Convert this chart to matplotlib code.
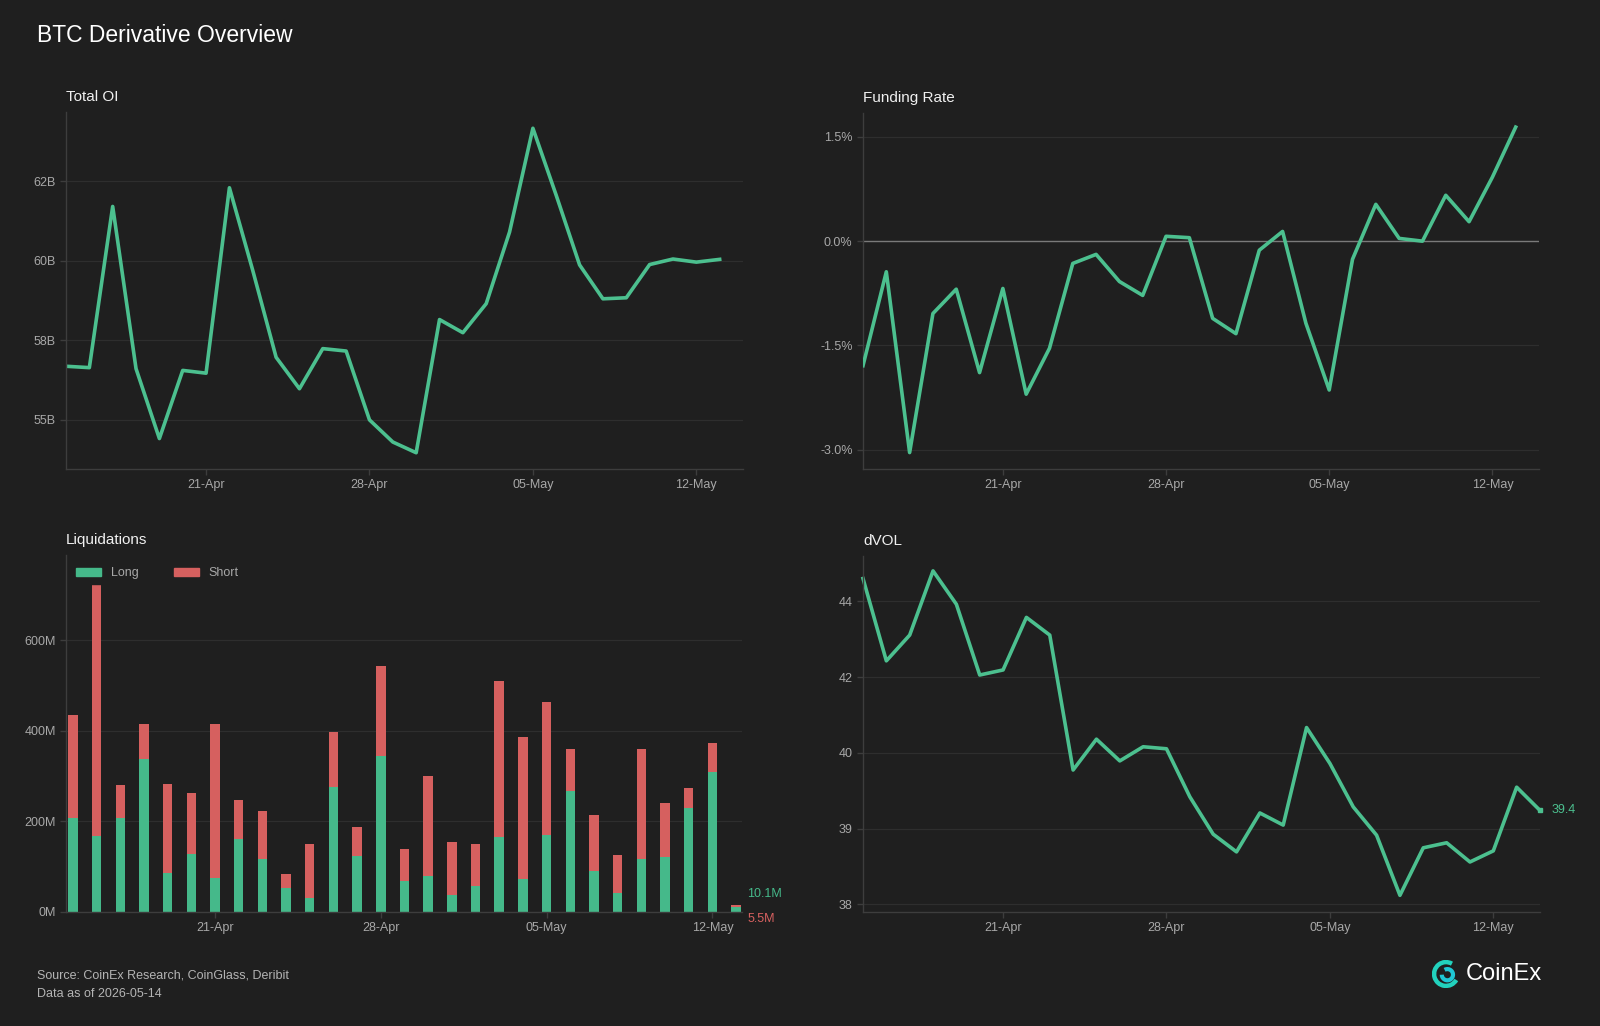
import numpy as np
import pandas as pd
import matplotlib
matplotlib.use("Agg")
import matplotlib.pyplot as plt
import matplotlib.dates as mdates
from matplotlib.patches import Arc, Patch

plt.rcParams['font.family'] = ['Liberation Sans', 'DejaVu Sans']

# data
dates = pd.date_range("2026-04-15", "2026-05-14", freq="D")

total_oi = [56.95, 56.91, 61.57, 56.88, 54.86, 56.83, 56.75, 62.11, 59.72, 57.21,
            56.30, 57.46, 57.39, 55.40, 54.76, 54.45, 58.30, 57.92, 58.76, 60.83,
            63.83, 61.89, 59.88, 58.90, 58.93, 59.89, 60.05, 59.96, 60.04]  # B, to 13-May
oi_ticks = [55.4, 57.7, 60.0, 62.3]
oi_labels = ["55B", "58B", "60B", "62B"]

funding = [-1.79, -0.44, -3.04, -1.04, -0.69, -1.89, -0.68, -2.20, -1.54, -0.32,
           -0.19, -0.58, -0.78, 0.07, 0.05, -1.11, -1.33, -0.13, 0.14, -1.18,
           -2.14, -0.26, 0.53, 0.04, 0.00, 0.66, 0.28, 0.92, 1.64]  # %, to 13-May
fr_ticks = [-3.0, -1.5, 0.0, 1.5]

long_liq = [207, 167, 207, 338, 86, 127, 74, 162, 118, 52, 32, 277, 124, 345, 69,
            80, 38, 57, 166, 72, 171, 267, 90, 43, 118, 122, 229, 309, 10.1]  # M
total_liq = [434, 755, 281, 416, 283, 263, 414, 248, 224, 84, 151, 397, 187, 543, 138,
             300, 154, 149, 509, 386, 464, 360, 214, 126, 360, 241, 274, 374, 15.6]
short_liq = [t - l for t, l in zip(total_liq, long_liq)]
liq_ticks = [0, 200, 400, 600]

dvol = [44.45, 42.82, 43.33, 44.60, 43.94, 42.54, 42.64, 43.68, 43.33, 40.66,
        41.27, 40.84, 41.12, 41.08, 40.13, 39.39, 39.04, 39.81, 39.57, 41.50,
        40.79, 39.93, 39.37, 38.18, 39.12, 39.22, 38.84, 39.06, 40.32, 39.86]  # to 14-May
dvol_ticks = [38.0, 39.5, 41.0, 42.5, 44.0]
dvol_labels = ["38", "39", "40", "42", "44"]
dvol_last_label = "39.4"

xticks = pd.to_datetime(["2026-04-21", "2026-04-28", "2026-05-05", "2026-05-12"])

BG = "#1f1f1f"
GREEN = "#4cc08f"
BAR_GREEN = "#45b98a"
RED = "#d6605f"
TICK = "#a8a8a8"
GRID = "#2e2e2e"
SPINE = "#3d3d3d"

fig = plt.figure(figsize=(16, 10.26), dpi=100, facecolor=BG)
W, H = 1600, 1026


def add_ax(l, t, r, b):
    return fig.add_axes([l / W, 1 - b / H, (r - l) / W, (b - t) / H])


def style(ax, title):
    ax.set_facecolor(BG)
    for s in ["top", "right"]:
        ax.spines[s].set_visible(False)
    for s in ["left", "bottom"]:
        ax.spines[s].set_color(SPINE)
        ax.spines[s].set_linewidth(1.0)
    ax.tick_params(colors=SPINE, labelcolor=TICK, labelsize=9, length=4, width=1)
    ax.grid(axis="y", color=GRID, linewidth=0.9)
    ax.set_axisbelow(True)
    ax.set_title(title, loc="left", color="#f0f0f0", fontsize=11, pad=8)
    ax.xaxis.set_major_formatter(mdates.DateFormatter("%d-%b"))
    ax.set_xticks(xticks)


# Total OI
ax1 = add_ax(66, 112, 743, 469)
style(ax1, "Total OI")
ax1.plot(dates[:len(total_oi)], total_oi, color=GREEN, lw=2.6)
ax1.set_xlim(dates[0], dates[-1])
ax1.set_ylim(53.98, 64.3)
ax1.set_yticks(oi_ticks)
ax1.set_yticklabels(oi_labels)

# Funding Rate
ax2 = add_ax(863, 113, 1539, 469)
style(ax2, "Funding Rate")
ax2.axhline(0, color="#7a7a7a", lw=1.0, zorder=1)
ax2.plot(dates[:len(funding)], funding, color=GREEN, lw=2.6, zorder=3)
ax2.set_xlim(dates[0], dates[-1])
ax2.set_ylim(-3.276, 1.843)
ax2.set_yticks(fr_ticks)
ax2.set_yticklabels([f"{v:.1f}%" for v in fr_ticks])

# Liquidations
ax3 = add_ax(66, 555, 742, 912)
style(ax3, "Liquidations")
ld = dates[:len(long_liq)]
ax3.bar(ld, long_liq, width=0.4, color=BAR_GREEN, zorder=2)
ax3.bar(ld, short_liq, width=0.4, bottom=long_liq, color=RED, zorder=2)
ax3.set_xlim(dates[0] - pd.Timedelta(hours=7), dates[28] + pd.Timedelta(hours=6))
ax3.set_ylim(0, 788)
ax3.set_yticks(liq_ticks)
ax3.set_yticklabels([f"{v}M" for v in liq_ticks])
leg = ax3.legend(handles=[Patch(color=BAR_GREEN, label="Long"), Patch(color=RED, label="Short")],
                 loc="upper left", ncol=2, frameon=True, facecolor=BG, edgecolor=BG, framealpha=1,
                 fontsize=9, labelcolor=TICK, handlelength=2.0, handleheight=0.7,
                 columnspacing=2.8, borderaxespad=0.4, bbox_to_anchor=(0.0, 0.993))
leg.set_zorder(5)
ax3.annotate(f"{long_liq[-1]}M", xy=(1.0, 0), xycoords="axes fraction", xytext=(4, 13),
             textcoords="offset points", color=BAR_GREEN, fontsize=9, va="center", ha="left",
             annotation_clip=False)
ax3.annotate(f"{short_liq[-1]:.1f}M", xy=(1.0, 0), xycoords="axes fraction", xytext=(4, -5),
             textcoords="offset points", color=RED, fontsize=9, va="center", ha="left",
             annotation_clip=False)

# dVOL
ax4 = add_ax(863, 556, 1540, 912)
style(ax4, "dVOL")
ax4.plot(dates, dvol, color=GREEN, lw=2.6, clip_on=False)
ax4.plot(dates[-1:], dvol[-1:], "s", color=GREEN, ms=3.5, clip_on=False)
ax4.set_xlim(dates[0], dates[-1])
ax4.set_ylim(37.85, 44.895)
ax4.set_yticks(dvol_ticks)
ax4.set_yticklabels(dvol_labels)
ax4.annotate(dvol_last_label, xy=(dates[-1], dvol[-1]), xytext=(8, 0),
             textcoords="offset points", color=GREEN, fontsize=9, va="center",
             annotation_clip=False)

# headings / footer
fig.text(37 / W, 1 - 35 / H, "BTC Derivative Overview", color="white", fontsize=16.5, va="center")
fig.text(37 / W, 1 - 976 / H, "Source: CoinEx Research, CoinGlass, Deribit", color="#b4b4b4",
         fontsize=9, va="center")
fig.text(37 / W, 1 - 994 / H, "Data as of 2026-05-14", color="#b4b4b4", fontsize=9, va="center")

# logo
lax = fig.add_axes([1432 / W, 1 - 988 / H, 28 / W, 28 / H])
lax.set_xlim(-1, 1)
lax.set_ylim(-1, 1)
lax.set_aspect("equal")
lax.axis("off")
lax.add_patch(Arc((0, 0), 1.7, 1.7, theta1=60, theta2=330, color="#22d2bd", lw=3.2))
lax.add_patch(Arc((0.1, -0.05), 0.8, 0.8, theta1=180, theta2=480, color="#1fc7d4", lw=3.0))
fig.text(1466 / W, 1 - 974 / H, "CoinEx", color="white", fontsize=17, va="center",
         fontweight="medium")

fig.savefig("out.png", dpi=100, facecolor=BG)
